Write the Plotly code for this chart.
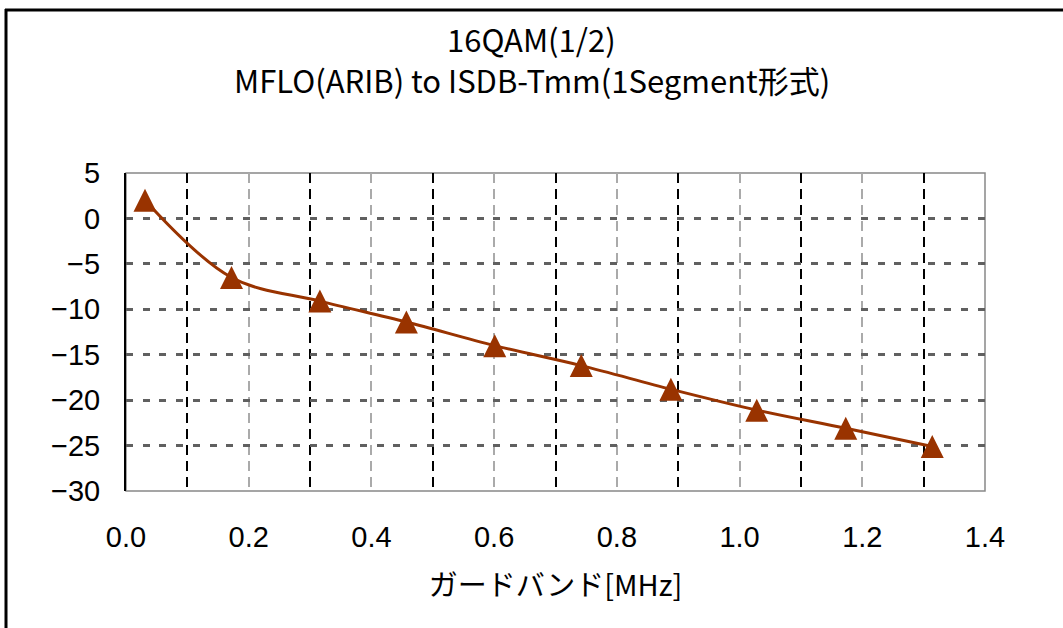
import plotly.graph_objects as go

# Data
guard_band_mhz = [0.031, 0.172, 0.316, 0.457, 0.601, 0.742, 0.888, 1.028, 1.173, 1.314]
level_db = [2.0, -6.5, -9.1, -11.4, -14.0, -16.2, -18.8, -21.1, -23.1, -25.1]

title_lines = ["16QAM(1/2)", "MFLO(ARIB) to ISDB-Tmm(1Segment形式)"]
x_title = "ガードバンド[MHz]"
x_ticks = [0.0, 0.2, 0.4, 0.6, 0.8, 1.0, 1.2, 1.4]
y_ticks = [5, 0, -5, -10, -15, -20, -25, -30]

W, H = 1063, 628
ML, MR, MT, MB = 126, 78, 173, 137
PW, PH = W - ML - MR, H - MT - MB

color = "#993300"


def px2paper_x(px):
    return (px - ML) / PW


def px2paper_y(py):
    return (H - MB - py) / PH


fig = go.Figure()
fig.add_trace(go.Scatter(
    x=guard_band_mhz, y=level_db, mode="lines+markers",
    line=dict(color=color, width=3, shape="spline", smoothing=1),
    marker=dict(symbol="arrow-down", angle=180, size=23, color=color, standoff=11.5,
                line=dict(width=0)),
    showlegend=False,
))

shapes = [
    dict(type="rect", xref="x domain", yref="y domain", x0=0, x1=1, y0=0, y1=1,
         line=dict(color="#888888", width=1.5), layer="below"),
    dict(type="line", xref="paper", yref="paper",
         x0=px2paper_x(6), x1=px2paper_x(6), y0=px2paper_y(9), y1=px2paper_y(700),
         line=dict(color="black", width=3)),
    dict(type="line", xref="paper", yref="paper",
         x0=px2paper_x(5), x1=px2paper_x(1100), y0=px2paper_y(10), y1=px2paper_y(10),
         line=dict(color="black", width=3)),
]

annotations = [
    dict(text=title_lines[0], xref="paper", yref="paper",
         x=px2paper_x(531.5), y=px2paper_y(38.5), xanchor="center", yanchor="middle",
         showarrow=False, font=dict(family="Noto Sans CJK JP", size=31, color="black")),
    dict(text=title_lines[1], xref="paper", yref="paper",
         x=px2paper_x(531.5), y=px2paper_y(79.5), xanchor="center", yanchor="middle",
         showarrow=False, font=dict(family="Noto Sans CJK JP", size=31, color="black")),
]

fig.update_layout(
    width=W, height=H,
    margin=dict(l=ML, r=MR, t=MT, b=MB, pad=0),
    paper_bgcolor="white", plot_bgcolor="white",
    font=dict(family="Liberation Sans, Arial, sans-serif", color="black", size=29),
    shapes=shapes,
    annotations=annotations,
)

fig.update_xaxes(
    range=[0, 1.4], tickvals=x_ticks, ticktext=[f"{v:.1f}" for v in x_ticks],
    showgrid=True, gridcolor="#aaaaaa", griddash="10px,6px", gridwidth=1.5,
    minor=dict(dtick=0.1, tick0=0, showgrid=True, gridcolor="black",
               griddash="10px,6px", gridwidth=1.5),
    showline=False, zeroline=False, ticks="", ticklabelstandoff=26,
    tickfont=dict(size=29),
    title=dict(text=x_title, standoff=23,
               font=dict(family="Noto Sans CJK JP", size=29, color="black")),
)
fig.update_yaxes(
    range=[-30, 5], tickvals=y_ticks,
    ticktext=[str(v).replace("-", "\u2212") for v in y_ticks],
    showgrid=True, gridcolor="#606060", griddash="7px,9.7px", gridwidth=3,
    showline=True, linecolor="black", linewidth=2,
    zeroline=False, ticks="", ticklabelstandoff=18,
    tickfont=dict(size=29),
)

fig.write_html("out.html", config={"displayModeBar": False},
               post_script="document.body.style.margin='0';")
